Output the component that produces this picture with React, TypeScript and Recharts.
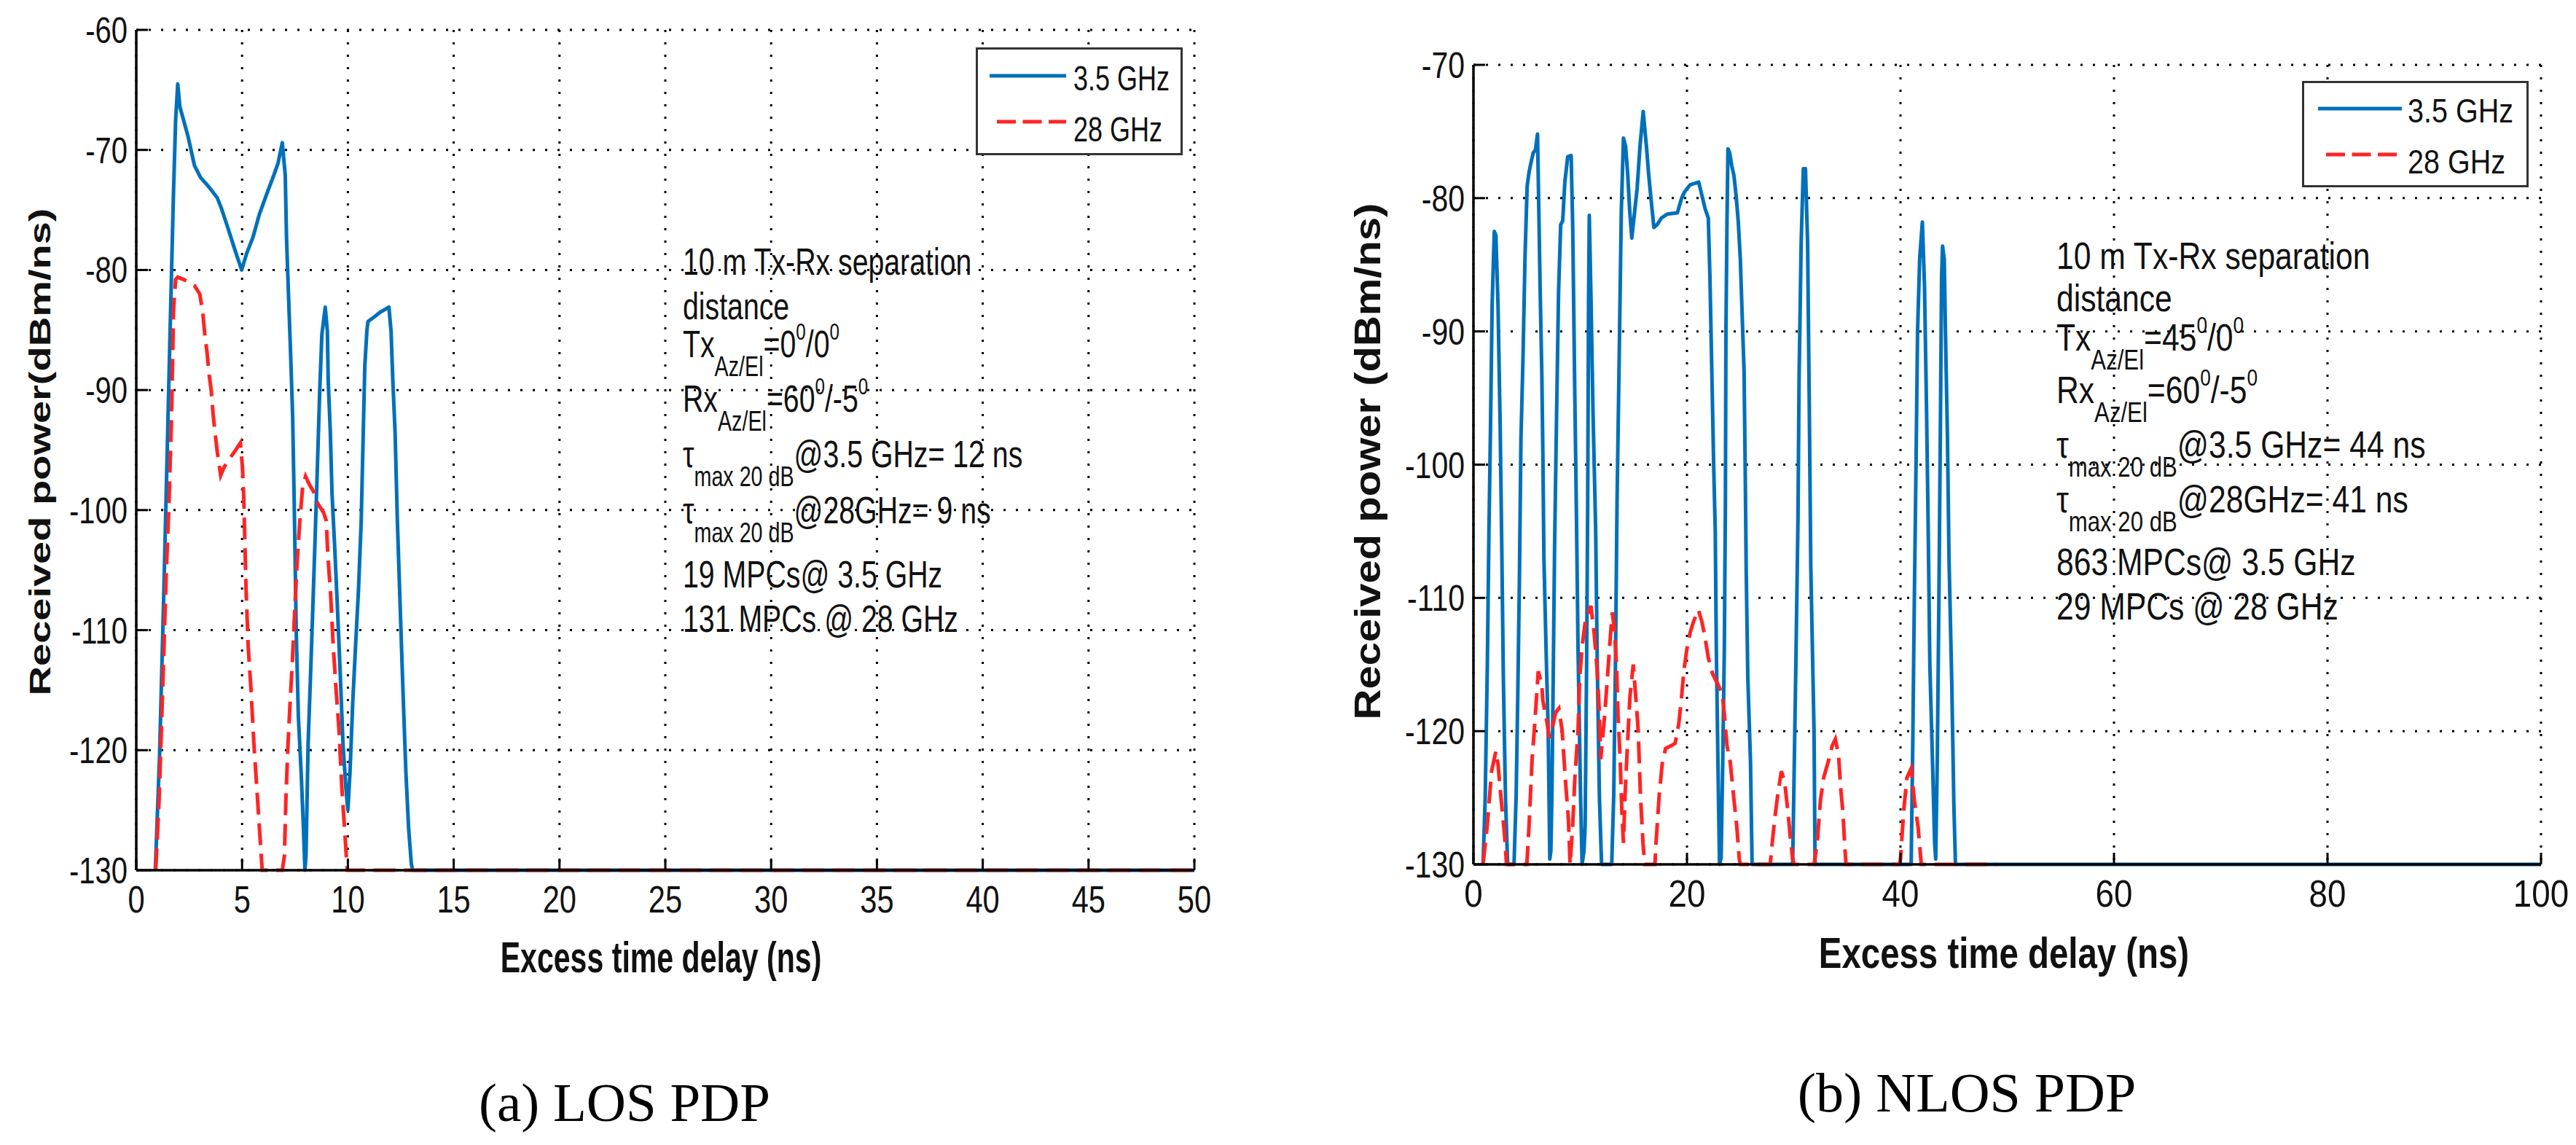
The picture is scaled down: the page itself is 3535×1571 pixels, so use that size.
import React from "react";
import { LineChart, Line, XAxis, YAxis, CartesianGrid, Legend } from "recharts";

// ---- data ----
const SERIES_NAMES = ["3.5 GHz", "28 GHz"];

const LOS_X_TICKS = [0, 5, 10, 15, 20, 25, 30, 35, 40, 45, 50];
const LOS_Y_TICKS = [-130, -120, -110, -100, -90, -80, -70, -60];
const NLOS_X_TICKS = [0, 20, 40, 60, 80, 100];
const NLOS_Y_TICKS = [-130, -120, -110, -100, -90, -80, -70];

// [delay ns, power dBm/ns]
const LOS_35: [number, number][] = [
  [0.9, -130], [1.1, -120.5], [1.3, -107], [1.45, -96], [1.6, -85], [1.76, -73.5],
  [1.86, -67.5], [1.96, -64.5], [2.06, -66.4], [2.45, -68.9], [2.75, -71.3], [3.04, -72.3],
  [3.44, -73.1], [3.83, -74], [4.03, -74.9], [4.33, -76.5], [4.62, -78.1], [4.98, -80],
  [5.22, -78.6], [5.51, -77.3], [5.81, -75.4], [6.2, -73.5], [6.5, -72.1], [6.7, -71.1],
  [6.9, -69.4], [7.04, -72.1], [7.1, -77.3], [7.19, -81.9], [7.29, -86.8], [7.39, -92.2],
  [7.47, -100], [7.56, -110.2], [7.66, -117.2], [7.79, -121.8], [7.9, -126.5], [7.97, -130],
  [8.02, -128.8], [8.12, -119.5], [8.26, -112.5], [8.39, -105.6], [8.52, -98.6], [8.67, -90],
  [8.77, -85.4], [8.93, -83.1], [9.03, -85.1], [9.07, -89.2], [9.17, -93.5], [9.25, -98.6],
  [9.38, -103.2], [9.51, -108.3], [9.64, -113.7], [9.77, -119.5], [9.9, -123], [10.0, -125],
  [10.1, -121.8], [10.23, -116], [10.36, -111.4], [10.5, -106.7], [10.63, -100.9], [10.72, -94],
  [10.8, -88], [10.9, -85], [10.95, -84.3], [11.25, -83.9], [11.54, -83.5], [11.94, -83.1],
  [12.04, -85.1], [12.13, -89.5], [12.23, -93.5], [12.34, -101], [12.47, -108], [12.6, -114.9],
  [12.74, -121.8], [12.87, -126.5], [13.0, -129.5], [13.06, -130], [50, -130],
];

const LOS_28: [number, number][] = [
  [0.92, -130], [1.08, -124.1], [1.21, -117], [1.31, -111.4], [1.41, -105.6], [1.54, -99.8],
  [1.67, -92], [1.76, -83.3], [1.86, -80.8], [1.96, -80.6], [2.25, -80.8], [2.55, -81.1],
  [2.75, -81.3], [3.0, -82], [3.14, -83.5], [3.24, -85.4], [3.34, -86.8], [3.44, -88.7],
  [3.54, -90], [3.64, -92.2], [3.74, -93.8], [3.83, -95.2], [3.99, -97.1], [4.13, -96.5],
  [4.33, -95.9], [4.62, -95.2], [4.92, -94.4], [5.02, -96.5], [5.08, -99], [5.13, -102.5],
  [5.19, -106.7], [5.29, -111.4], [5.42, -114.9], [5.56, -119.5], [5.69, -123], [5.82, -126.5],
  [5.95, -130], [6.9, -130], [7.0, -128.8], [7.07, -124.1], [7.17, -119.5], [7.27, -116],
  [7.38, -112.5], [7.47, -109], [7.6, -104.4], [7.73, -100.9], [7.86, -98.1], [8.0, -97.2],
  [8.19, -97.9], [8.39, -98.5], [8.59, -99.5], [8.85, -100.2], [8.98, -100.9], [9.05, -103.7],
  [9.18, -106.9], [9.31, -111.4], [9.44, -114.9], [9.58, -118.3], [9.71, -123], [9.84, -126.5],
  [9.97, -130], [50, -130],
];

const NLOS_35: [number, number][] = [
  [0.9, -130], [1.1, -125], [1.3, -115], [1.45, -105], [1.6, -97], [1.75, -88],
  [1.95, -82.5], [2.1, -82.8], [2.3, -88], [2.5, -97], [2.65, -106], [2.8, -116],
  [3.0, -125], [3.2, -130], [3.8, -130], [4.0, -124.8], [4.15, -117.4], [4.3, -108.9],
  [4.45, -98], [4.64, -92], [4.83, -84.4], [5.03, -79.1], [5.2, -78.1], [5.4, -77.3],
  [5.6, -76.6], [5.8, -76.4], [6.0, -75.2], [6.1, -79.8], [6.25, -87], [6.4, -93],
  [6.5, -99], [6.6, -107], [6.8, -113.8], [7.0, -119.9], [7.15, -129.6], [7.25, -129],
  [7.35, -124.8], [7.5, -113.8], [7.6, -106.2], [7.78, -96.6], [7.97, -87.1], [8.17, -82],
  [8.36, -81.7], [8.56, -78.8], [8.83, -76.9], [9.15, -76.8], [9.3, -82.2], [9.46, -92.7],
  [9.55, -98], [9.65, -104], [9.8, -114], [10.03, -124.8], [10.18, -130], [10.35, -129],
  [10.46, -127.2], [10.6, -115], [10.7, -103], [10.78, -88], [10.85, -81.3], [11.0, -87.1],
  [11.2, -96.1], [11.45, -105], [11.6, -115], [11.8, -125], [12.0, -130], [12.95, -130],
  [13.14, -124.8], [13.3, -115], [13.45, -102.8], [13.65, -92], [13.85, -81], [14.05, -75.5],
  [14.25, -76.1], [14.44, -78.1], [14.64, -81], [14.83, -83], [15.1, -81], [15.33, -79.3],
  [15.6, -76.1], [15.9, -73.5], [16.2, -76.1], [16.4, -78.1], [16.6, -79.8], [16.9, -82.2],
  [17.2, -82], [17.6, -81.5], [18.15, -81.2], [19.1, -81.1], [19.5, -80], [19.8, -79.5],
  [20.3, -79], [20.7, -78.9], [21.1, -78.8], [21.4, -79.8], [21.7, -80.8], [22.0, -81.5],
  [22.15, -85.9], [22.35, -93.9], [22.5, -100], [22.65, -105], [22.75, -113.8], [22.9, -122.3],
  [23.05, -130], [23.2, -129.5], [23.35, -122.3], [23.5, -113.8], [23.6, -103], [23.65, -90],
  [23.75, -81.7], [23.84, -76.3], [24.0, -76.6], [24.2, -77.6], [24.4, -78.3], [24.6, -79.8],
  [24.8, -81.7], [25.0, -84.6], [25.2, -89.5], [25.35, -93], [25.45, -100], [25.55, -108],
  [25.7, -116], [25.95, -122.3], [26.1, -130], [29.9, -130], [30.2, -115], [30.4, -104],
  [30.5, -93.6], [30.7, -83.2], [30.9, -77.8], [31.1, -77.8], [31.3, -83.4], [31.45, -95],
  [31.6, -107.7], [31.9, -119.9], [32.0, -130], [41.0, -130], [41.15, -121], [41.3, -110],
  [41.45, -100.4], [41.6, -90], [41.8, -84.5], [42.05, -81.8], [42.25, -86.6], [42.45, -96.3],
  [42.6, -105], [42.75, -115], [43.0, -122.3], [43.2, -128.4], [43.3, -129.6], [43.45, -122],
  [43.6, -110], [43.75, -96], [43.85, -86], [43.94, -83.6], [44.1, -84.6], [44.2, -89.5],
  [44.4, -98], [44.55, -107.2], [44.8, -116.2], [45.0, -125.5], [45.15, -130], [100, -130],
];

const NLOS_28: [number, number][] = [
  [0.9, -130], [1.3, -127], [1.7, -123], [2.1, -121.5], [2.3, -122.5], [2.5, -124.3],
  [2.9, -127.7], [3.1, -130], [5.0, -130], [5.2, -127.2], [5.5, -122], [5.7, -119.9],
  [6.07, -115.5], [6.4, -116.5], [6.5, -117.7], [6.9, -119.4], [7.1, -120.5], [7.35, -119.9],
  [7.7, -118.6], [8.0, -118.3], [8.3, -119.9], [8.6, -123.5], [8.9, -126.7], [9.05, -130],
  [9.3, -127], [9.5, -123.5], [9.8, -119.9], [9.95, -116], [10.2, -113.5], [10.5, -111.6],
  [11.0, -110.6], [11.3, -112.6], [11.55, -115], [11.77, -118.2], [11.92, -122.1], [12.1, -120.5],
  [12.3, -118.7], [12.53, -116.2], [12.77, -113.5], [13.0, -111.1], [13.2, -112.3], [13.4, -115],
  [13.54, -118.7], [13.75, -122.3], [13.9, -126], [14.05, -128.4], [14.2, -124.8], [14.42, -121.1],
  [14.66, -117.4], [14.97, -115], [15.2, -117.4], [15.43, -119.9], [15.64, -124.8], [15.88, -128.4],
  [16.04, -130], [17.0, -130], [17.1, -128.4], [17.4, -124.8], [17.7, -122.3], [18.0, -121.3],
  [18.5, -121.1], [18.9, -120.9], [19.24, -119.4], [19.5, -117.4], [19.7, -115.5], [20.0, -113.8],
  [20.3, -112.6], [20.6, -111.8], [21.07, -110.9], [21.4, -111.8], [21.7, -113], [22.0, -114.5],
  [22.4, -115.7], [22.9, -116.5], [23.3, -117.2], [23.5, -118.7], [23.75, -121.1], [24.05, -122.3],
  [24.36, -124.8], [24.67, -127.2], [24.9, -129.6], [25.0, -130], [27.8, -130], [27.9, -129.1],
  [28.2, -126.7], [28.5, -124.8], [28.84, -123], [29.15, -123.8], [29.45, -126], [29.67, -127.9],
  [29.9, -129.6], [30.06, -130], [31.9, -130], [32.2, -128.4], [32.5, -125.2], [32.8, -123.5],
  [33.3, -122.1], [33.6, -121.1], [33.9, -120.6], [34.2, -121.8], [34.4, -124.3], [34.6, -126],
  [34.8, -128.9], [34.9, -130], [39.9, -130], [40.0, -129.6], [40.3, -126], [40.6, -123.5],
  [41.0, -122.8], [41.3, -125.2], [41.65, -127.2], [41.95, -130], [49, -130],
];

// annotation text, [text, sub|sup]
type Seg = [string, ("sub" | "sup")?];
const LOS_NOTES: Seg[][] = [
  [["10 m Tx-Rx separation"]],
  [["distance"]],
  [["Tx"], ["Az/El", "sub"], ["=0"], ["0", "sup"], ["/0"], ["0", "sup"]],
  [["Rx"], ["Az/El", "sub"], ["=60"], ["0", "sup"], ["/-5"], ["0", "sup"]],
  [["τ"], ["max 20 dB", "sub"], ["@3.5 GHz= 12 ns"]],
  [["τ"], ["max 20 dB", "sub"], ["@28GHz= 9 ns"]],
  [["19 MPCs@ 3.5 GHz"]],
  [["131 MPCs @ 28 GHz"]],
];
const NLOS_NOTES: Seg[][] = [
  [["10 m Tx-Rx separation"]],
  [["distance"]],
  [["Tx"], ["Az/El", "sub"], ["=45"], ["0", "sup"], ["/0"], ["0", "sup"]],
  [["Rx"], ["Az/El", "sub"], ["=60"], ["0", "sup"], ["/-5"], ["0", "sup"]],
  [["τ"], ["max 20 dB", "sub"], ["@3.5 GHz= 44 ns"]],
  [["τ"], ["max 20 dB", "sub"], ["@28GHz= 41 ns"]],
  [["863 MPCs@ 3.5 GHz"]],
  [["29 MPCs @ 28 GHz"]],
];

// ---- styling ----
const FONT = "'Liberation Sans', Arial, Helvetica, sans-serif";
const SERIF = "'Liberation Serif', 'Times New Roman', serif";
const BLUE = "#0070BA";
const RED = "#FF2424";
const INK = "#111";
const TICK_LEN = 16;
const AXIS_LINE = { stroke: "#000", strokeWidth: 3.5 };

const toRows = (pts: [number, number][]) => pts.map(([t, v]) => ({ t, v }));

function makeBottomTick(sx: number) {
  return (props: any) => {
    const { x, y, payload } = props;
    return (
      <g>
        <line x1={x} x2={x} y1={y} y2={y - TICK_LEN} stroke="#000" strokeWidth={3} />
        <text
          transform={`translate(${x},${y + 58}) scale(${sx},1)`}
          textAnchor="middle"
          fontSize={52}
          fontFamily={FONT}
          fill={INK}
        >
          {payload.value}
        </text>
      </g>
    );
  };
}

function makeLeftTick(sx: number) {
  return (props: any) => {
    const { x, y, payload } = props;
    return (
      <g>
        <line x1={x} x2={x + TICK_LEN} y1={y} y2={y} stroke="#000" strokeWidth={3} />
        <text
          transform={`translate(${x - 12},${y + 18}) scale(${sx},1)`}
          textAnchor="end"
          fontSize={50}
          fontFamily={FONT}
          fill={INK}
        >
          {payload.value}
        </text>
      </g>
    );
  };
}

const TopTick = (props: any) => (
  <line x1={props.x} x2={props.x} y1={props.y} y2={props.y + TICK_LEN} stroke="#000" strokeWidth={3} />
);
const RightTick = (props: any) => (
  <line x1={props.x} x2={props.x - TICK_LEN} y1={props.y} y2={props.y} stroke="#000" strokeWidth={3} />
);

type LegendBox = {
  left: number; top: number; width: number; height: number;
  lineX1: number; lineX2: number; dashX1: number; lineY: number[];
  textX: number; textY: number[]; fontSize: number; sx: number;
};

function makeLegend(b: LegendBox) {
  return (props: any) => {
    const items = [...(props.payload || [])].sort(
      (a: any, c: any) => SERIES_NAMES.indexOf(a.value) - SERIES_NAMES.indexOf(c.value)
    );
    return (
      <svg width={b.width} height={b.height} style={{ display: "block" }}>
        <rect x={1.5} y={1.5} width={b.width - 3} height={b.height - 3} fill="#fff" stroke="#333" strokeWidth={3} />
        {items.map((it: any, i: number) => {
          const dashed = !!(it.payload && it.payload.strokeDasharray);
          return (
            <g key={it.value}>
              <line
                x1={dashed ? b.dashX1 : b.lineX1}
                x2={b.lineX2}
                y1={b.lineY[i]}
                y2={b.lineY[i]}
                stroke={it.color}
                strokeWidth={5}
                strokeDasharray={dashed ? "26 9.5" : undefined}
              />
              <text
                transform={`translate(${b.textX},${b.textY[i]}) scale(${b.sx},1)`}
                fontSize={b.fontSize}
                fontFamily={FONT}
                fill={INK}
              >
                {it.value}
              </text>
            </g>
          );
        })}
      </svg>
    );
  };
}

type ChartProps = {
  left: number; width: number; height: number;
  plotLeft: number; plotRight: number; plotTop: number; plotBottom: number;
  xTicks: number[]; yTicks: number[];
  xDomain: [number, number]; yDomain: [number, number];
  s35: [number, number][]; s28: [number, number][];
  xTickScale: number; yTickScale: number;
  legend: LegendBox;
};

function PdpChart(p: ChartProps) {
  const xAxisHeight = 50;
  return (
    <div style={{ position: "absolute", left: p.left, top: 0 }}>
      <LineChart
        width={p.width}
        height={p.height}
        margin={{
          top: p.plotTop,
          right: p.left + p.width - p.plotRight,
          bottom: p.height - p.plotBottom - xAxisHeight,
          left: 0,
        }}
      >
        <CartesianGrid stroke="#000" strokeWidth={3} strokeDasharray="3 14" />
        <XAxis
          dataKey="t"
          type="number"
          domain={p.xDomain}
          ticks={p.xTicks}
          interval={0}
          height={xAxisHeight}
          tickSize={0}
          tickMargin={0}
          tickLine={false}
          axisLine={AXIS_LINE}
          tick={makeBottomTick(p.xTickScale)}
        />
        <XAxis
          xAxisId="top"
          orientation="top"
          dataKey="t"
          type="number"
          domain={p.xDomain}
          ticks={p.xTicks}
          interval={0}
          height={0}
          tickSize={0}
          tickMargin={0}
          tickLine={false}
          axisLine={AXIS_LINE}
          tick={TopTick}
        />
        <YAxis
          type="number"
          domain={p.yDomain}
          ticks={p.yTicks}
          interval={0}
          width={p.plotLeft - p.left}
          tickSize={0}
          tickMargin={0}
          tickLine={false}
          axisLine={AXIS_LINE}
          tick={makeLeftTick(p.yTickScale)}
        />
        <YAxis
          yAxisId="right"
          orientation="right"
          type="number"
          domain={p.yDomain}
          ticks={p.yTicks}
          interval={0}
          width={0}
          tickSize={0}
          tickMargin={0}
          tickLine={false}
          axisLine={AXIS_LINE}
          tick={RightTick}
        />
        <Legend
          layout="vertical"
          align="center"
          verticalAlign="middle"
          content={makeLegend(p.legend)}
          wrapperStyle={{
            position: "absolute",
            left: p.legend.left - p.left,
            top: p.legend.top,
            width: p.legend.width,
            height: p.legend.height,
          }}
        />
        <Line
          data={toRows(p.s35)}
          dataKey="v"
          name={SERIES_NAMES[0]}
          type="linear"
          stroke={BLUE}
          strokeWidth={5}
          strokeLinejoin="round"
          dot={false}
          activeDot={false}
          isAnimationActive={false}
        />
        <Line
          data={toRows(p.s28)}
          dataKey="v"
          name={SERIES_NAMES[1]}
          type="linear"
          stroke={RED}
          strokeWidth={5}
          strokeDasharray="30 12"
          dot={false}
          activeDot={false}
          isAnimationActive={false}
        />
      </LineChart>
    </div>
  );
}

function Notes({ x, baselines, sx, lines }: { x: number; baselines: number[]; sx: number; lines: Seg[][] }) {
  return (
    <g fontFamily={FONT} fill={INK}>
      {lines.map((segs, li) => {
        let prev = 0;
        return (
          <text key={li} transform={`translate(${x},${baselines[li]}) scale(${sx},1)`} fontSize={52}>
            {segs.map(([s, kind], i) => {
              const shift = kind === "sub" ? 26 : kind === "sup" ? -24 : 0;
              const dy = shift - prev;
              prev = shift;
              return (
                <tspan key={i} dy={dy} fontSize={kind === "sub" ? 38 : kind === "sup" ? 32 : 52}>
                  {s}
                </tspan>
              );
            })}
          </text>
        );
      })}
    </g>
  );
}

export default function App() {
  return (
    <div style={{ position: "absolute", left: 0, top: 0, width: 3535, height: 1571, background: "#fff", overflow: "hidden" }}>
      <PdpChart
        left={0}
        width={1700}
        height={1300}
        plotLeft={187}
        plotRight={1639}
        plotTop={41}
        plotBottom={1194}
        xTicks={LOS_X_TICKS}
        yTicks={LOS_Y_TICKS}
        xDomain={[0, 50]}
        yDomain={[-130, -60]}
        s35={LOS_35}
        s28={LOS_28}
        xTickScale={0.8}
        yTickScale={0.8}
        legend={{
          left: 1339, top: 65, width: 284, height: 148,
          lineX1: 19, lineX2: 124, dashX1: 29, lineY: [39, 102],
          textX: 134, textY: [59, 129], fontSize: 48, sx: 0.75,
        }}
      />
      <PdpChart
        left={1750}
        width={1785}
        height={1300}
        plotLeft={2022}
        plotRight={3487}
        plotTop={89}
        plotBottom={1186}
        xTicks={NLOS_X_TICKS}
        yTicks={NLOS_Y_TICKS}
        xDomain={[0, 100]}
        yDomain={[-130, -70]}
        s35={NLOS_35}
        s28={NLOS_28}
        xTickScale={0.88}
        yTickScale={0.82}
        legend={{
          left: 3159, top: 111, width: 311, height: 146,
          lineX1: 22, lineX2: 137, dashX1: 33, lineY: [38, 101],
          textX: 145, textY: [57, 127], fontSize: 46, sx: 0.86,
        }}
      />
      <svg
        width={3535}
        height={1571}
        style={{ position: "absolute", left: 0, top: 0, pointerEvents: "none" }}
      >
        <Notes x={937} baselines={[377, 438, 490, 565, 641, 718, 806, 867]} sx={0.755} lines={LOS_NOTES} />
        <Notes x={2822} baselines={[369, 427, 481, 553, 628, 703, 789, 850]} sx={0.82} lines={NLOS_NOTES} />

        <g fontFamily={FONT} fontWeight="bold" fill={INK}>
          <text transform="translate(907,1334) scale(0.685,1)" textAnchor="middle" fontSize={60}>
            Excess time delay (ns)
          </text>
          <text transform="translate(2750,1328) scale(0.79,1)" textAnchor="middle" fontSize={60}>
            Excess time delay (ns)
          </text>
          <text transform="translate(69,620) rotate(-90) scale(1,0.73)" textAnchor="middle" fontSize={56}>
            Received power(dBm/ns)
          </text>
          <text transform="translate(1894,633) rotate(-90) scale(1,0.86)" textAnchor="middle" fontSize={58}>
            Received power (dBm/ns)
          </text>
        </g>

        <g fontFamily={SERIF} fill="#000">
          <text x={857} y={1538} textAnchor="middle" fontSize={75}>(a) LOS PDP</text>
          <text x={2699} y={1525} textAnchor="middle" fontSize={76}>(b) NLOS PDP</text>
        </g>
      </svg>
    </div>
  );
}
